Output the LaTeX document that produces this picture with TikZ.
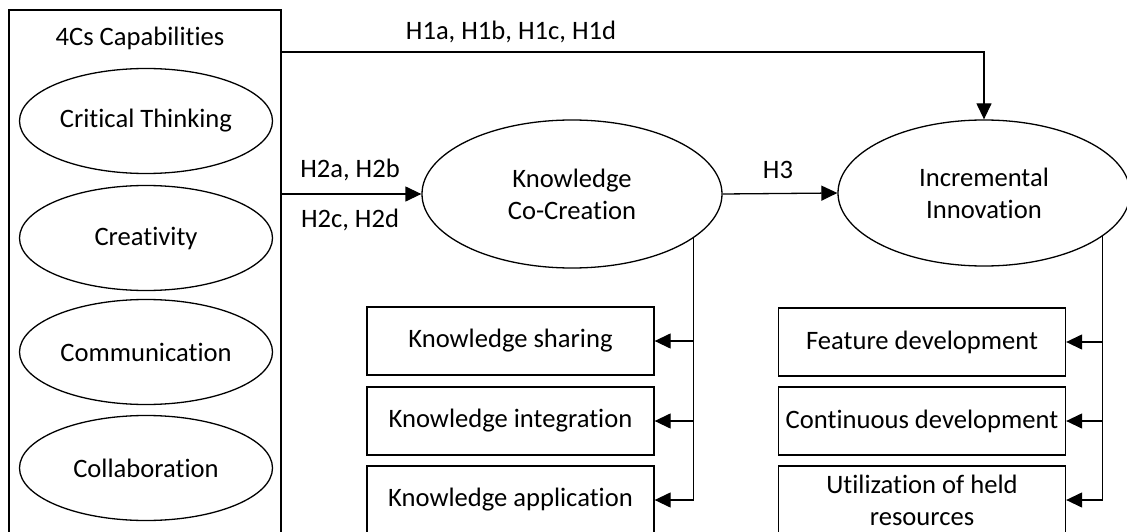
\documentclass[tikz,border=0pt]{standalone}
\usepackage{fontspec}
\setmainfont{Carlito}[Ligatures=NoCommon]
\usetikzlibrary{shapes.geometric,arrows.meta}

\tikzset{
  cbox/.style={draw,rectangle,minimum width=287pt,minimum height=68pt,inner sep=0pt,align=center},
  cell/.style={draw,ellipse,minimum width=253pt,minimum height=105pt,inner sep=0pt},
  bigell/.style={draw,ellipse,inner sep=0pt,align=center},
  lbl/.style={inner sep=0pt},
  arr/.style={-{Triangle[length=16pt,width=15pt]}}
}

\begin{document}
\begin{tikzpicture}[x=1pt,y=-1pt,line width=1.3pt,font=\fontsize{26.6}{32}\selectfont]
\useasboundingbox (0,0) rectangle (1127,532);

% 4Cs box
\node[draw,rectangle,minimum width=272pt,minimum height=536pt,inner sep=0pt] (cap) at (145,278) {};
\node[lbl] (captitle) at (140,38) {4Cs Capabilities};
\node[cell] (ct) at (146,121) {Critical Thinking};
\node[cell] (cr) at (146,238) {Creativity};
\node[cell] (cm) at (146,352) {Communication};
\node[cell] (cl) at (146,468) {Collaboration};

% main constructs
\node[bigell,minimum width=300pt,minimum height=148pt] (kc) at (572,194) {Knowledge\\Co-Creation};
\node[bigell,minimum width=292pt,minimum height=146pt] (ii) at (984,193) {Incremental\\Innovation};

% dimensions
\node[cbox] (ks) at (510.5,341) {Knowledge sharing};
\node[cbox] (ki) at (510.5,421) {Knowledge integration};
\node[cbox] (ka) at (510.5,500) {Knowledge application};
\node[cbox] (fd) at (922,342) {Feature development};
\node[cbox] (cd) at (922,421) {Continuous development};
\node[cbox] (ur) at (922,500) {Utilization of held\\resources};

% paths
\coordinate (h1start) at (281,52);
\draw[arr] (h1start) -| (ii.north);
\node[lbl] (h1) at (511,32) {H1a, H1b, H1c, H1d};

\draw[arr] (cap.east |- kc.west) -- (kc.west);
\node[lbl] (h2ab) at (350,170) {H2a, H2b};
\node[lbl] (h2cd) at (350,220) {H2c, H2d};

\draw[arr] (kc.east) -- (ii.west);
\node[lbl] (h3) at (778,170) {H3};

\draw[arr] (kc.-20) |- (ks.east);
\draw[arr] (kc.-20) |- (ki.east);
\draw[arr] (kc.-20) |- (ka.east);

\draw[arr] (ii.-20) |- (fd.east);
\draw[arr] (ii.-20) |- (cd.east);
\draw[arr] (ii.-20) |- (ur.east);
\end{tikzpicture}
\end{document}
